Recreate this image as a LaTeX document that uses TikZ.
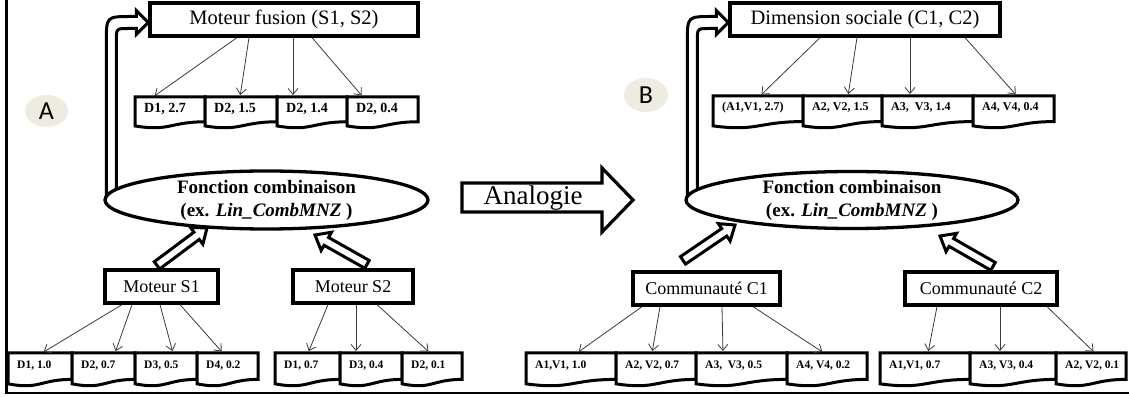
\documentclass[tikz,border=0pt]{standalone}
\usepackage{fontspec}
\setmainfont{Liberation Serif}
\newfontfamily\tagfont{Carlito}
\usetikzlibrary{arrows.meta,calc,shapes.geometric,backgrounds}

\definecolor{tagbg}{HTML}{EEEBE0}
\definecolor{linkgray}{HTML}{3A3A3A}

\tikzset{
  box/.style={draw, line width=3.3pt, fill=white, inner sep=0pt, minimum height=33pt,
              font=\fontsize{20.5}{24}\selectfont},
  smallbox/.style={box, font=\fontsize{18}{22}\selectfont},
  combo/.style={ellipse, draw, line width=3.3pt, fill=white, inner sep=0pt},
  combotext/.style={align=center, inner sep=0pt, font=\fontsize{19}{23}\selectfont\bfseries},
  docline/.style={draw, line width=3pt, fill=white, line join=miter},
  doclabel/.style={inner sep=0pt, font=\bfseries},
  thinarrow/.style={draw=linkgray, line width=0.8pt, shorten >=2pt,
                    -{Straight Barb[length=6pt,width=10pt]}},
  hollowline/.style={draw, line width=3pt, fill=white, line join=miter},
  tag/.style={ellipse, fill=tagbg, inner sep=0pt, font=\tagfont\fontsize{26}{28}\selectfont},
}

% document sheet: name, left x, top y, width, height, label
\newcommand\docnode[6]{%
  \path[docline] (#2,#3) -- ({#2+#4},#3) -- ({#2+#4},{#3-0.8*#5})
    .. controls ({#2+0.5*#4},{#3-0.8*#5}) and ({#2+0.5*#4},{#3-1.12*#5}) ..
    (#2,{#3-0.934*#5}) -- cycle;
  \coordinate (#1) at ({#2+0.5*#4},#3);
  \node[doclabel, anchor=west] (#1-l) at ({#2+9},{#3-0.37*#5}) {#6};
}

% outlined arrow from tail #1 to tip #2
\newcommand\hollowarrow[2]{%
  \path ($(#2)!13pt!(#1)$) coordinate (hb);
  \draw[hollowline] ($(#1)!4.5pt!-90:(#2)$) -- ($(hb)!4.5pt!-90:(#2)$)
    -- ($(hb)!10.5pt!-90:(#2)$) -- (#2) -- ($(hb)!10.5pt!90:(#2)$)
    -- ($(hb)!4.5pt!90:(#2)$) -- ($(#1)!4.5pt!90:(#2)$) -- cycle;
}

% outlined bent arrow rising from ellipse #1 into the west side of box #2
\newcommand\bentarrow[2]{%
  \draw[hollowline] let \p1=(#2.west), \p2=(#1.west) in
    (\x2+3pt,\y2) -- (\x2+3pt,\y1-22pt)
    .. controls (\x2+3pt,\y1+3pt) .. (\x2+28pt,\y1+3pt)
    -- (\x1-12pt,\y1+3pt) -- (\x1-12pt,\y1+9pt) -- (\x1,\y1-3pt)
    -- (\x1-12pt,\y1-15pt) -- (\x1-12pt,\y1-9pt)
    -- (\x2+25pt,\y1-9pt) .. controls (\x2+13pt,\y1-9pt) .. (\x2+13pt,\y1-21pt)
    -- (\x2+13pt,\y2) -- cycle;
}

\begin{document}
\begin{tikzpicture}[x=1pt,y=1pt]
\useasboundingbox (0,0) rectangle (1129,396);

% frame
\draw[line width=2.5pt] (6.5,396) -- (6.5,3) -- (1129,3);

% ---------------- panel A ----------------
\node[tag, minimum width=43pt, minimum height=32pt] (tagA) at (46.5,285) {A};
\node[box, minimum width=268pt] (mf) at (284,376.5) {Moteur fusion (S1, S2)};
\node[combo, minimum width=323pt, minimum height=58pt,
      label={[combotext]center:{Fonction combinaison\\(ex. \textit{Lin\_CombMNZ} )}}]
      (fc1) at (266.5,196) {};
\begin{scope}[on background layer]
  \bentarrow{fc1}{mf}
\end{scope}
\node[smallbox, minimum width=113pt] (s1) at (161.5,109.5) {Moteur S1};
\node[smallbox, minimum width=120pt] (s2) at (353,109.5) {Moteur S2};

\begin{scope}[doclabel/.append style={font=\fontsize{14}{16}\selectfont\bfseries}]
  \docnode{a1}{135}{299}{70}{31}{D1, 2.7}
  \docnode{a2}{205}{299}{72}{31}{D2, 1.5}
  \docnode{a3}{277}{299}{70}{31}{D2, 1.4}
  \docnode{a4}{347}{299}{71}{31}{D2, 0.4}
\end{scope}
\begin{scope}[doclabel/.append style={font=\fontsize{11.5}{13}\selectfont\bfseries}]
  \docnode{b1}{8}{43}{64}{33}{D1, 1.0}
  \docnode{b2}{72}{43}{63}{33}{D2, 0.7}
  \docnode{b3}{135}{43}{62}{33}{D3, 0.5}
  \docnode{b4}{197}{43}{61}{33}{D4, 0.2}
  \docnode{c1d}{275}{43}{65}{33}{D1, 0.7}
  \docnode{c2d}{340}{43}{62}{33}{D3, 0.4}
  \docnode{c3d}{402}{43}{60}{33}{D2, 0.1}
\end{scope}

\draw[thinarrow] ([xshift=-47pt]mf.south) -- ([xshift=-17pt]a1);
\draw[thinarrow] ([xshift=-35pt]mf.south) -- ([xshift=-1pt]a2);
\draw[thinarrow] ([xshift=9pt]mf.south) -- ([xshift=-19pt]a3);
\draw[thinarrow] ([xshift=28pt]mf.south) -- ([xshift=-19.5pt]a4);

\draw[thinarrow] ([xshift=-39.5pt]s1.south) -- ([xshift=2pt]b1);
\draw[thinarrow] ([xshift=-29.5pt]s1.south) -- ([xshift=11.5pt]b2);
\draw[thinarrow] ([xshift=-1.5pt]s1.south) -- ([xshift=7pt]b3);
\draw[thinarrow] ([xshift=18.5pt]s1.south) -- ([xshift=-4.5pt]b4);
\draw[thinarrow] ([xshift=-25pt]s2.south) -- ([xshift=0.5pt]c1d);
\draw[thinarrow] ([xshift=3pt]s2.south) -- ([xshift=-15pt]c2d);
\draw[thinarrow] ([xshift=24pt]s2.south) -- ([xshift=-2pt]c3d);

\hollowarrow{[shift={(-4.5,3)}]s1.north}{[shift={(-59.5,-28)}]fc1.center}
\hollowarrow{[shift={(14,4)}]s2.north}{[shift={(48.5,-35)}]fc1.center}

% ---------------- analogy ----------------
\draw[hollowline, line width=3.2pt] (462,184) -- (602,184) -- (602,164) -- (633,196)
  -- (602,228) -- (602,213) -- (462,213) -- cycle;
\node[font=\fontsize{27}{30}\selectfont, inner sep=0pt] (analogie) at (533,198) {Analogie};

% ---------------- panel B ----------------
\node[tag, minimum width=44pt, minimum height=34pt] (tagB) at (646,301) {B};
\node[box, minimum width=270pt] (ds) at (865,376.5) {Dimension sociale (C1, C2)};
\node[combo, minimum width=332pt, minimum height=57pt,
      label={[combotext]center:{Fonction combinaison\\(ex. \textit{Lin\_CombMNZ} )}}]
      (fc2) at (852,196) {};
\begin{scope}[on background layer]
  \bentarrow{fc2}{ds}
\end{scope}
\node[smallbox, minimum width=147pt] (k1) at (706.5,107.5) {Communauté C1};
\node[smallbox, minimum width=152pt] (k2) at (981,107.5) {Communauté C2};

\begin{scope}[doclabel/.append style={font=\fontsize{12}{14}\selectfont\bfseries}]
  \docnode{e1}{713}{300}{90}{32}{(A1,V1, 2.7)}
  \docnode{e2}{803}{300}{79}{32}{A2, V2, 1.5}
  \docnode{e3}{882}{300}{91}{32}{A3, \ V3, 1.4}
  \docnode{e4}{973}{300}{81}{32}{A4, V4, 0.4}
\end{scope}
\begin{scope}[doclabel/.append style={font=\fontsize{11.5}{13}\selectfont\bfseries}]
  \docnode{g1}{526}{43}{90}{33}{A1,V1, 1.0}
  \docnode{g2}{616}{43}{80}{33}{A2, V2, 0.7}
  \docnode{g3}{696}{43}{91}{33}{A3, \ V3, 0.5}
  \docnode{g4}{787}{43}{80}{33}{A4, V4, 0.2}
  \docnode{h1}{880}{43}{90}{33}{A1,V1, 0.7}
  \docnode{h2}{970}{43}{86}{33}{A3, V3, 0.4}
  \docnode{h3}{1056}{43}{70}{33}{A2, V2, 0.1}
\end{scope}

\draw[thinarrow] ([xshift=-45pt]ds.south) -- ([xshift=2pt]e1);
\draw[thinarrow] ([xshift=-8pt]ds.south) -- ([xshift=5.5pt]e2);
\draw[thinarrow] ([xshift=45pt]ds.south) -- ([xshift=-17.5pt]e3);
\draw[thinarrow] ([xshift=100pt]ds.south) -- ([xshift=3.5pt]e4);

\draw[thinarrow] ([xshift=-64.5pt]k1.south) -- ([xshift=6pt]g1);
\draw[thinarrow] ([xshift=-46.5pt]k1.south) -- ([xshift=-4pt]g2);
\draw[thinarrow] ([xshift=15.5pt]k1.south) -- ([xshift=-18.5pt]g3);
\draw[thinarrow] ([xshift=46.5pt]k1.south) -- ([xshift=-3pt]g4);
\draw[thinarrow] ([xshift=-44pt]k2.south) -- ([xshift=3pt]h1);
\draw[thinarrow] ([xshift=19pt]k2.south) -- ([xshift=-13pt]h2);
\draw[thinarrow] ([xshift=66pt]k2.south) -- ([xshift=4pt]h3);

\hollowarrow{[shift={(-23.5,10)}]k1.north}{[shift={(-117,-25)}]fc2.center}
\hollowarrow{[shift={(12,4)}]k2.north}{[shift={(88,-36)}]fc2.center}
\end{tikzpicture}
\end{document}
